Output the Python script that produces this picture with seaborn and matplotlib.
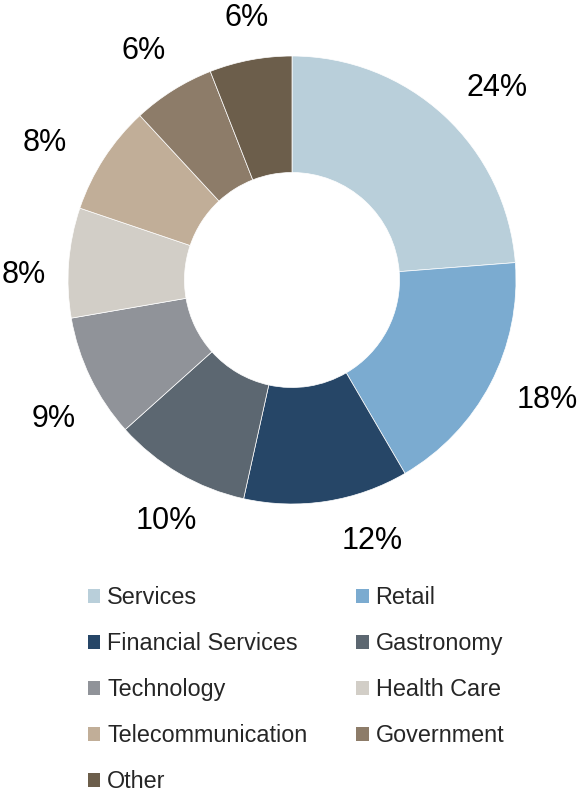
import matplotlib
matplotlib.use('Agg')
import matplotlib.pyplot as plt
from matplotlib.patches import Patch
import seaborn as sns

# Data
sectors = ['Services', 'Retail', 'Financial Services', 'Gastronomy', 'Technology',
           'Health Care', 'Telecommunication', 'Government', 'Other']
shares = [24, 18, 12, 10, 9, 8, 8, 6, 6]
colors = ['#B9CFDA', '#7BABD0', '#264667', '#5C6771', '#909399',
          '#D2CEC7', '#C1AE98', '#8D7C69', '#6C5E4B']

# label placement (Excel style "best fit"), in pixels of the 577x792 figure
label_px = [(497, 88), (547, 400), (372, 541), (166, 521), (54, 419),
            (24, 275), (45, 143), (144, 51), (247, 18)]

sns.set_theme(style='white')
plt.rcParams['font.family'] = ['Liberation Sans', 'DejaVu Sans']

W, H = 577, 792
cx, cy, R = 292, 280, 224

fig = plt.figure(figsize=(W / 100, H / 100), dpi=100)
ax = fig.add_axes([(cx - R) / W, (H - cy - R) / H, 2 * R / W, 2 * R / H])

wedges, texts, autotexts = ax.pie(
    shares,
    colors=colors,
    startangle=90,
    counterclock=False,
    radius=1,
    wedgeprops={'width': 0.52, 'edgecolor': 'white', 'linewidth': 0.5},
    autopct=lambda p: f'{p:.0f}%',
    pctdistance=1.22,
    textprops={'fontsize': 22, 'color': 'black'},
)
for t, (px, py) in zip(autotexts, label_px):
    t.set_position(((px - cx) / R, (cy - py) / R))
    t.set_clip_on(False)
ax.set_xlim(-1, 1)
ax.set_ylim(-1, 1)
ax.set_aspect('equal')
ax.axis('off')

# Legend laid out row by row (2 columns)
handles = [Patch(facecolor=c, edgecolor='none') for c in colors]
order = [0, 2, 4, 6, 8, 1, 3, 5, 7]
fig.legend(
    [handles[i] for i in order],
    [sectors[i] for i in order],
    loc='upper left',
    bbox_to_anchor=(88 / W, 1 - 586 / H),
    ncol=2,
    frameon=False,
    fontsize=16.8,
    handlelength=0.52,
    handleheight=0.52,
    handletextpad=0.3,
    labelspacing=0.99,
    columnspacing=2.1,
    borderpad=0,
    borderaxespad=0,
)

fig.savefig('out.png', dpi=100)
